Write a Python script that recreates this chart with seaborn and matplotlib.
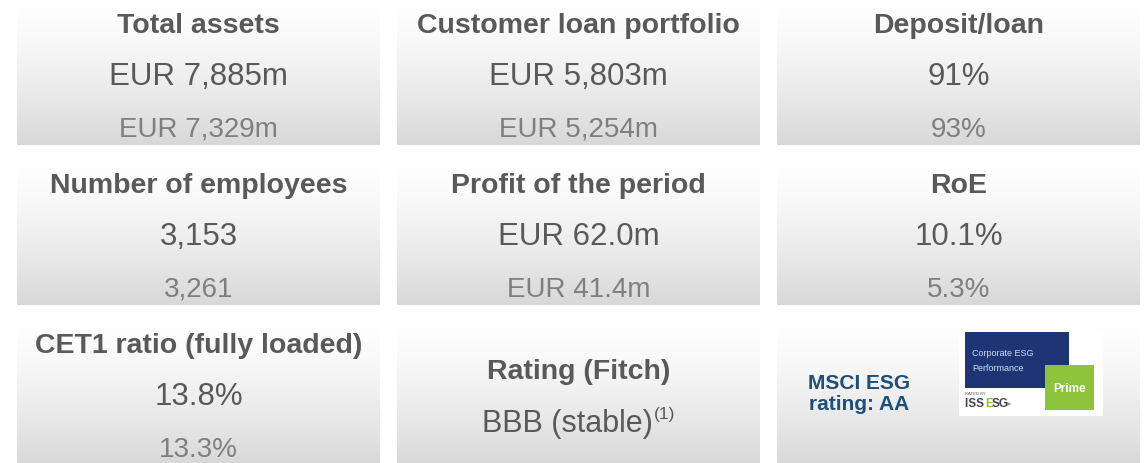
import numpy as np
import seaborn as sns
import matplotlib.pyplot as plt
from matplotlib.patches import Rectangle

sns.set_theme(style="white")
plt.rcParams['font.family'] = ['Liberation Sans', 'DejaVu Sans']

# KPI tiles, row by row
titles = ["Total assets", "Customer loan portfolio", "Deposit/loan",
          "Number of employees", "Profit of the period", "RoE",
          "CET1 ratio (fully loaded)", "Rating (Fitch)", "MSCI ESG\nrating: AA"]
current = ["EUR 7,885m", "EUR 5,803m", "91%",
           "3,153", "EUR 62.0m", "10.1%",
           "13.8%", "BBB (stable)", ""]
previous = ["EUR 7,329m", "EUR 5,254m", "93%",
            "3,261", "EUR 41.4m", "5.3%",
            "13.3%", "", ""]
footnote = "(1)"

W, H = 1145, 464
fig = plt.figure(figsize=(W / 100, H / 100), dpi=100)
ax = fig.add_axes([0, 0, 1, 1])
ax.set_xlim(0, W)
ax.set_ylim(H, 0)

col_x = [17, 397, 777]
row_y = [0, 160, 320]
tile_w, tile_h = 363, 146

# tile background: white on top fading to light grey
t = np.linspace(0, 1, 256)
shade = 1 - 0.155 * t ** 1.4
grad = np.dstack([shade, shade, shade])[0][:, None, :]

dark = "#595959"
light = "#7f7f7f"

for i, title in enumerate(titles):
    r, c = divmod(i, 3)
    x0, y0 = col_x[c], row_y[r]
    ax.imshow(grad, extent=(x0, x0 + tile_w, y0 + tile_h, y0), aspect="auto",
              interpolation="bilinear", zorder=1)
    cx = x0 + tile_w / 2
    if i == 8:
        continue
    if previous[i] == "":
        ax.text(cx, y0 + 59, title, ha="center", va="baseline", fontsize=20.5,
                fontweight="bold", color=dark, zorder=3)
        main = ax.text(cx - 11, y0 + 112, current[i], ha="center", va="baseline",
                       fontsize=22, color=dark, zorder=3)
        fig.canvas.draw()
        bb = main.get_window_extent().transformed(ax.transData.inverted())
        ax.text(bb.x1 + 1, y0 + 99, footnote, ha="left", va="baseline",
                fontsize=12.5, color=dark, zorder=3)
        continue
    ax.text(cx, y0 + 33, title, ha="center", va="baseline", fontsize=20.5,
            fontweight="bold", color=dark, zorder=3)
    ax.text(cx, y0 + 85, current[i], ha="center", va="baseline", fontsize=22.5,
            color=dark, zorder=3)
    ax.text(cx, y0 + 137, previous[i], ha="center", va="baseline", fontsize=20,
            color=light, zorder=3)

# MSCI rating text
ax.text(859, 394, titles[8], ha="center", va="center", fontsize=15,
        fontweight="bold", color="#1f4e79", linespacing=1.15, zorder=3)

# ISS ESG badge
navy = "#1e3575"
green = "#8cc43c"
ax.add_patch(Rectangle((959, 332), 144, 85, facecolor="white", edgecolor="none", zorder=2))
ax.add_patch(Rectangle((965, 333), 104, 56, facecolor=navy, edgecolor="none", zorder=3))
ax.add_patch(Rectangle((1045, 366), 49, 45, facecolor=green, edgecolor="none", zorder=4))
ax.text(972, 354, "Corporate ESG", fontsize=6.5, color="#d8dcea", va="center", zorder=5)
ax.text(972, 369, "Performance", fontsize=6.5, color="#d8dcea", va="center", zorder=5)
ax.text(1069.5, 389, "Prime", fontsize=8.5, fontweight="bold", color="white",
        ha="center", va="center", zorder=5)
ax.text(965, 394, "RATED BY", fontsize=3, color="#555555", va="center", zorder=5)
ax.text(965, 404, "ISS ", fontsize=8.5, fontweight="bold", color="#444444", va="center", zorder=5)
ax.text(985, 404, "E", fontsize=8.5, fontweight="bold", color=green, va="center", zorder=5)
ax.text(992, 404, "SG", fontsize=8.5, fontweight="bold", color="#444444", va="center", zorder=5)
ax.text(1007, 404, "\u25b8", fontsize=6, color="#888888", va="center", zorder=5)

ax.set_xlim(0, W)
ax.set_ylim(H, 0)
ax.axis("off")

fig.savefig("out.png", dpi=100)
